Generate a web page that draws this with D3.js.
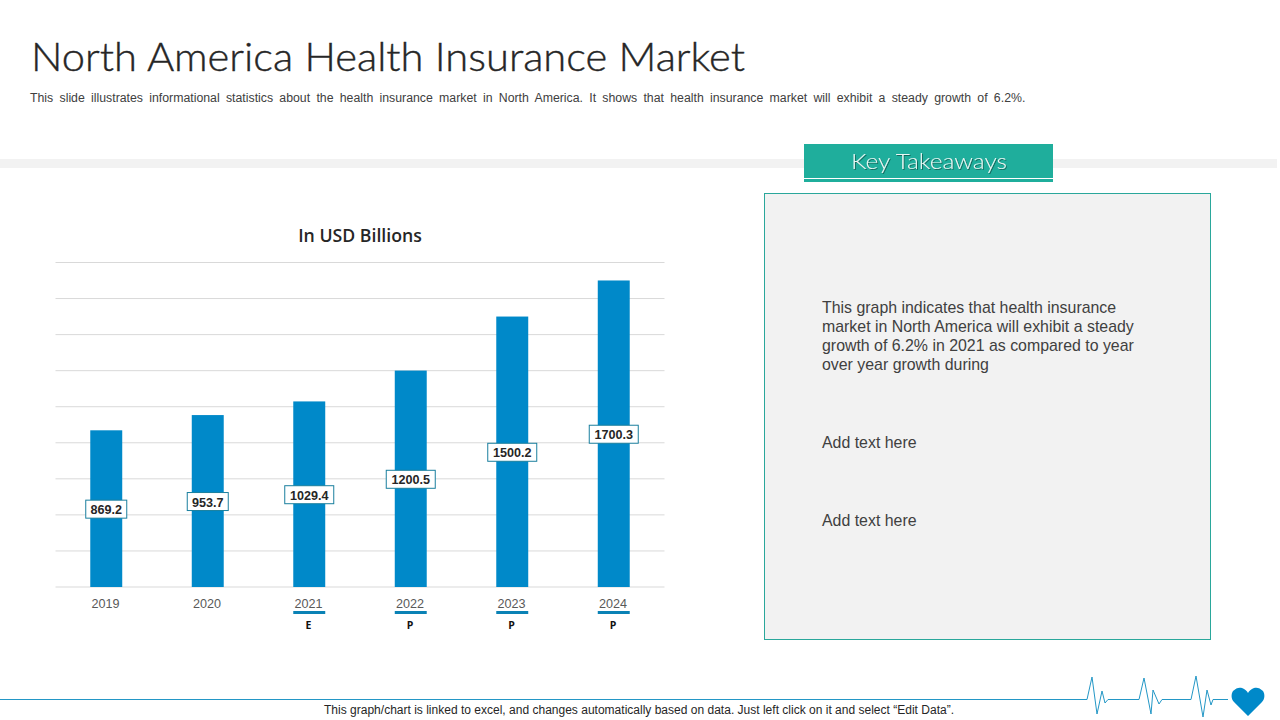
<!DOCTYPE html>
<html>
<head>
<meta charset="utf-8">
<script src="https://cdn.jsdelivr.net/npm/d3@7"></script>
<style>
  html, body { margin: 0; padding: 0; background: #fff; overflow: hidden; }
  text { font-family: "Liberation Sans", Arial, sans-serif; }
</style>
</head>
<body>
<div id="chart"></div>
<script>
const years = ["2019", "2020", "2021", "2022", "2023", "2024"];
const values = [869.2, 953.7, 1029.4, 1200.5, 1500.2, 1700.3];
const marks = ["", "", "E", "P", "P", "P"];
const yTicks = [0, 200, 400, 600, 800, 1000, 1200, 1400, 1600, 1800];
const takeaways = [
  "This graph indicates that health insurance",
  "market in North America will exhibit a steady",
  "growth of 6.2% in 2021 as compared to year",
  "over year growth during"
];
const blue = "#0089c9";
const teal = "#1fae9c";

let svg = d3.select("#chart").append("svg")
  .attr("width", 1280)
  .attr("height", 720)
  .style("display", "block");

let defs = svg.append("defs");
let shadow = defs.append("filter").attr("id", "shadow");
shadow.append("feDropShadow")
  .attr("dx", 1).attr("dy", 1).attr("stdDeviation", 0.6)
  .attr("flood-color", "#0b5a50").attr("flood-opacity", 0.8);

// header
svg.append("text")
  .attr("x", 31).attr("y", 71)
  .attr("textLength", 714)
  .attr("lengthAdjust", "spacingAndGlyphs")
  .style("font-family", "Lato")
  .style("font-weight", "300")
  .style("font-size", "40px")
  .style("fill", "#262626")
  .style("stroke", "#262626")
  .style("stroke-width", "0.4px")
  .text("North America Health Insurance Market");

svg.append("text")
  .attr("x", 30).attr("y", 102)
  .style("font-size", "12.3px")
  .style("word-spacing", "2.85px")
  .style("fill", "#404040")
  .text("This slide illustrates informational statistics about the health insurance market in North America. It shows that health insurance market will exhibit a steady growth of 6.2%.");

svg.append("rect")
  .attr("x", 0).attr("y", 159).attr("width", 1277).attr("height", 9)
  .attr("fill", "#f2f2f2");

// key takeaways banner
svg.append("rect")
  .attr("x", 804).attr("y", 144).attr("width", 249).attr("height", 38)
  .attr("fill", teal);
svg.append("rect")
  .attr("x", 804).attr("y", 178).attr("width", 249).attr("height", 1)
  .attr("fill", "#fff");
svg.append("text")
  .attr("x", 929).attr("y", 169)
  .attr("text-anchor", "middle")
  .attr("textLength", 156)
  .attr("lengthAdjust", "spacingAndGlyphs")
  .attr("filter", "url(#shadow)")
  .style("font-family", "Lato")
  .style("font-weight", "300")
  .style("font-size", "22px")
  .style("fill", "#e9f8f5")
  .text("Key Takeaways");

// takeaways panel
svg.append("rect")
  .attr("x", 764.5).attr("y", 193.5).attr("width", 446).attr("height", 446)
  .attr("fill", "#f2f2f2")
  .attr("stroke", "#2aa79b");

svg.selectAll(".takeaway")
  .data(takeaways)
  .enter()
  .append("text")
  .attr("class", "takeaway")
  .attr("x", 822)
  .attr("y", (d, i) => 313 + i * 19)
  .style("font-size", "15.9px")
  .style("fill", "#404040")
  .text(d => d);

svg.selectAll(".addtext")
  .data([448, 526])
  .enter()
  .append("text")
  .attr("class", "addtext")
  .attr("x", 822)
  .attr("y", d => d)
  .style("font-size", "15.9px")
  .style("fill", "#404040")
  .text("Add text here");

// chart
let x = d3.scaleBand()
  .domain(years)
  .range([55.5, 664.5])
  .paddingInner(0.685)
  .paddingOuter(0.3425);

let y = d3.scaleLinear()
  .domain([0, 1800])
  .range([587, 262.5]);

svg.append("text")
  .attr("x", 360).attr("y", 242)
  .attr("text-anchor", "middle")
  .style("font-family", "'Open Sans'")
  .style("font-weight", "600")
  .style("font-size", "17.7px")
  .style("fill", "#262626")
  .text("In USD Billions");

let grid = svg.append("g")
  .attr("transform", "translate(55.5,-0.5)")
  .call(d3.axisLeft(y).tickValues(yTicks).tickSize(-609).tickFormat(""));
grid.select(".domain").remove();
grid.selectAll("line").attr("stroke", "#d9d9d9");

svg.selectAll(".bar")
  .data(values)
  .enter()
  .append("rect")
  .attr("class", "bar")
  .attr("x", (d, i) => x(years[i]))
  .attr("y", d => y(d))
  .attr("width", x.bandwidth())
  .attr("height", d => y(0) - y(d))
  .attr("fill", blue);

let xAxis = svg.append("g")
  .attr("transform", "translate(-0.7,587)")
  .call(d3.axisBottom(x).tickSize(0).tickPadding(12.5));
xAxis.select(".domain").remove();
xAxis.selectAll("text")
  .style("font-family", "'Liberation Sans'")
  .style("font-size", "12.6px")
  .style("fill", "#595959");

// value labels sit halfway up each bar
let labels = svg.selectAll(".label")
  .data(values)
  .enter()
  .append("g")
  .attr("class", "label")
  .attr("transform", (d, i) => `translate(${x(years[i]) + x.bandwidth() / 2},${(y(d) + y(0)) / 2 + 0.5})`);

labels.append("rect")
  .attr("x", d => d >= 1000 ? -24.5 : -20.5)
  .attr("y", -9)
  .attr("width", d => d >= 1000 ? 49 : 41)
  .attr("height", 18)
  .attr("fill", "#fff")
  .attr("stroke", "#1a7f9e");

labels.append("text")
  .attr("text-anchor", "middle")
  .attr("y", 5)
  .style("font-size", "12.6px")
  .style("font-weight", "bold")
  .style("fill", "#262626")
  .text(d => d);

// estimate / projection markers under the axis
let marked = years.filter((d, i) => marks[i] !== "");

svg.selectAll(".underline")
  .data(marked)
  .enter()
  .append("rect")
  .attr("class", "underline")
  .attr("x", d => x(d))
  .attr("y", 611)
  .attr("width", x.bandwidth())
  .attr("height", 3)
  .attr("fill", "#0a82b5");

svg.selectAll(".mark")
  .data(marked)
  .enter()
  .append("text")
  .attr("class", "mark")
  .attr("x", d => x(d) + x.bandwidth() / 2 - 0.7)
  .attr("y", 628.5)
  .attr("text-anchor", "middle")
  .style("font-family", "'Open Sans'")
  .style("font-size", "10.5px")
  .style("font-weight", "bold")
  .style("fill", "#111")
  .text(d => marks[years.indexOf(d)]);

// footer
svg.append("path")
  .attr("d", "M0,699.5H1087L1092,677L1097,714L1102,691L1105,703L1108,699.5H1139L1144,678L1151,714L1153,690L1159,704L1162,699.5H1191L1196,676L1203,717L1207,690L1211,705L1213,699.5H1228")
  .attr("fill", "none")
  .attr("stroke", "#2397c6")
  .attr("stroke-width", 1);

svg.append("path")
  .attr("d", "M1248,716l-14,-14c-3,-3,-3,-8,-1,-11c3,-3,6,-4,9,-3c3,1,5,3,6,5c1,-2,3,-4,6,-5c3,-1,6,0,9,3c2,3,2,8,-1,11z")
  .attr("fill", blue);

svg.append("text")
  .attr("x", 639).attr("y", 714)
  .attr("text-anchor", "middle")
  .attr("textLength", 630)
  .style("font-size", "12px")
  .style("fill", "#262626")
  .text("This graph/chart is linked to excel, and changes automatically based on data. Just left click on it and select “Edit Data”.");
</script>
</body>
</html>
